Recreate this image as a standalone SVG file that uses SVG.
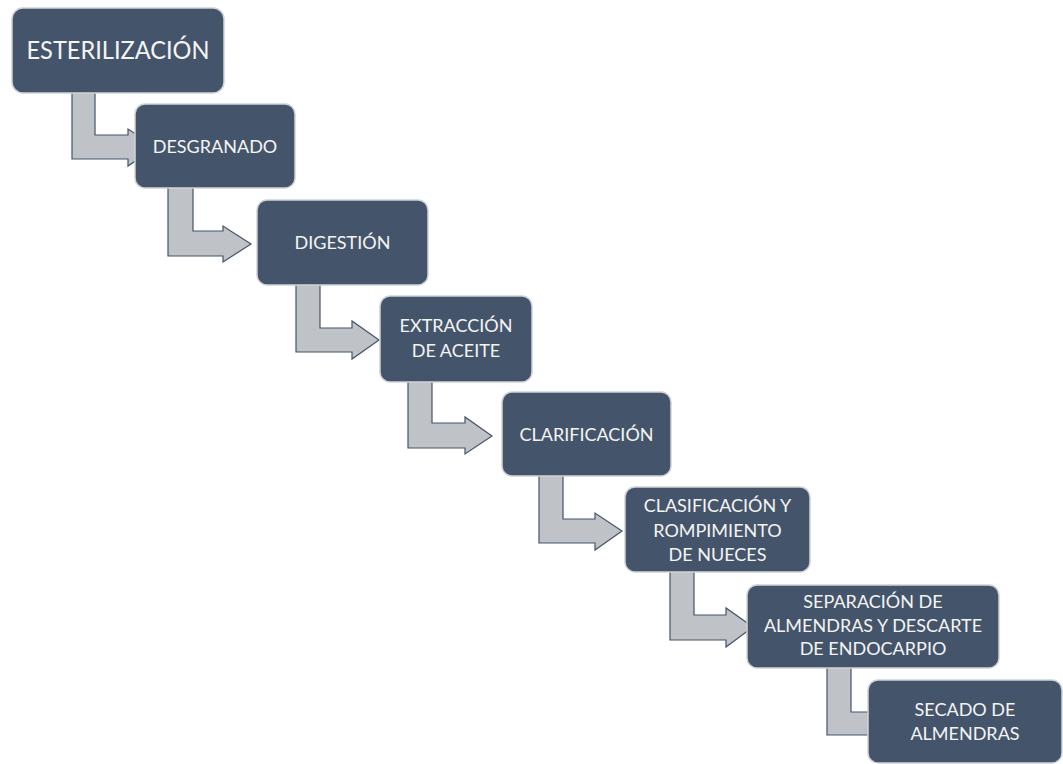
<svg xmlns="http://www.w3.org/2000/svg" width="1063" height="764" viewBox="0 0 1063 764">
<style>
.box{fill:#44546A;stroke:#D0D3D8;stroke-width:1.5}
.arr{fill:#BFC2C6;stroke:#44546A;stroke-width:1.2;stroke-linejoin:miter}
.t{font-family:Lato,"Liberation Sans",sans-serif;font-size:18px;fill:#F4F4F4;text-anchor:middle}
.big{font-size:24.5px}
</style>
<rect width="1063" height="764" fill="#FFFFFF"/>
<g id="connectors">
<path class="arr" d="M72,90 L95,90 L95,135 L128,135 L128,129 L156,147 L128,166 L128,159 L72,159 Z"/>
<path class="arr" d="M168,185 L193,185 L193,231 L223,231 L223,226 L251,244 L223,262 L223,256 L168,256 Z"/>
<path class="arr" d="M296,282 L320,282 L320,328 L352,328 L352,321 L379,340 L352,359 L352,352 L296,352 Z"/>
<path class="arr" d="M408,379 L432,379 L432,423 L465,423 L465,417 L492,436 L465,454 L465,448 L408,448 Z"/>
<path class="arr" d="M539,474 L563,474 L563,519 L595,519 L595,513 L622,531 L595,550 L595,543 L539,543 Z"/>
<path class="arr" d="M670,569 L694,569 L694,615 L726,615 L726,608 L753,627 L726,647 L726,640 L670,640 Z"/>
<path class="arr" d="M827,665 L851,665 L851,712 L880,712 L880,705 L907,723 L880,742 L880,735 L827,735 Z"/>
</g>
<g id="n1"><rect class="box" x="12" y="8" width="212" height="85" rx="11"/><text class="t big" x="118" y="59" textLength="183" lengthAdjust="spacingAndGlyphs">ESTERILIZACIÓN</text></g>
<g id="n2"><rect class="box" x="135" y="104" width="160" height="84" rx="10"/><text class="t" x="215" y="153">DESGRANADO</text></g>
<g id="n3"><rect class="box" x="257" y="200" width="171" height="85" rx="10"/><text class="t" x="342.5" y="249">DIGESTIÓN</text></g>
<g id="n4"><rect class="box" x="380" y="296" width="152" height="86" rx="10"/><text class="t" x="456" y="332">EXTRACCIÓN</text><text class="t" x="456" y="357">DE ACEITE</text></g>
<g id="n5"><rect class="box" x="502" y="392" width="169" height="84" rx="10"/><text class="t" x="586.5" y="440.5">CLARIFICACIÓN</text></g>
<g id="n6"><rect class="box" x="625" y="487" width="185" height="85" rx="10"/><text class="t" x="717.5" y="512">CLASIFICACIÓN Y</text><text class="t" x="717.5" y="537">ROMPIMIENTO</text><text class="t" x="717.5" y="561">DE NUECES</text></g>
<g id="n7"><rect class="box" x="747" y="585" width="252" height="83" rx="10"/><text class="t" x="873" y="608">SEPARACIÓN DE</text><text class="t" x="873" y="632">ALMENDRAS Y DESCARTE</text><text class="t" x="873" y="655">DE ENDOCARPIO</text></g>
<g id="n8"><rect class="box" x="868" y="680" width="194" height="83" rx="10"/><text class="t" x="965" y="716">SECADO DE</text><text class="t" x="965" y="740">ALMENDRAS</text></g>
</svg>
